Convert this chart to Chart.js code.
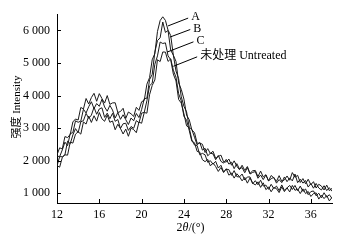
<!DOCTYPE html>
<html>
<head>
<meta charset="utf-8">
<script src="https://cdn.jsdelivr.net/npm/chart.js@4.4.1/dist/chart.umd.min.js"></script>
<style>
  html, body { margin: 0; padding: 0; background: #fff; }
  #wrap { width: 338px; height: 240px; }
</style>
</head>
<body>
<div id="wrap"><canvas id="xrd"></canvas></div>
<script>
// 2θ grid, 0.25° steps from 12 to 38
const angleStart = 12, angleStep = 0.25, angleCount = 105;
const angles = Array.from({ length: angleCount }, (_, i) => angleStart + i * angleStep);

const xTicks = [12, 16, 20, 24, 28, 32, 36];
const yTicks = [1000, 2000, 3000, 4000, 5000, 6000];

const seriesNames = ['A', 'B', 'C', '未处理 Untreated'];

const intensityA = [
  2180, 2395, 2360, 2740, 2710, 2805, 3190, 3280, 3250, 3635, 3590, 3910, 3740, 3940, 4070, 3825,
  4060, 3910, 3770, 4000, 3730, 3775, 3780, 3480, 3510, 3610, 3300, 3495, 3440, 3360, 3640, 3545,
  3810, 3855, 4350, 4550, 5100, 5290, 5970, 6305, 6420, 6310, 6010, 5845, 5240, 5050, 4390, 4190,
  3890, 3400, 3260, 2945, 2860, 2535, 2540, 2505, 2250, 2370, 2220, 2290, 2070, 2130, 2170, 1965,
  1960, 2050, 1860, 1995, 1830, 1725, 1860, 1700, 1820, 1610, 1690, 1700, 1510, 1680, 1500, 1570,
  1380, 1545, 1470, 1365, 1540, 1365, 1410, 1530, 1400, 1635, 1490, 1550, 1330, 1450, 1290, 1430,
  1260, 1355, 1160, 1275, 1220, 1100, 1250, 1080, 1150
];
const intensityB = [
  2140, 2125, 2330, 2570, 2460, 2835, 2860, 3225, 3180, 3215, 3580, 3465, 3660, 3810, 3600, 3755,
  3670, 3885, 3650, 3520, 3700, 3555, 3310, 3480, 3270, 3410, 3260, 3110, 3310, 3225, 3450, 3325,
  3570, 3905, 3920, 4490, 4650, 5335, 5690, 5775, 6260, 5940, 6000, 5395, 5240, 4755, 4520, 3960,
  3670, 3500, 3030, 2960, 2720, 2485, 2560, 2325, 2380, 2150, 2230, 2210, 2030, 2160, 1980, 1925,
  2040, 1895, 1950, 1755, 1910, 1745, 1790, 1630, 1790, 1590, 1640, 1665, 1460, 1560, 1420, 1560,
  1380, 1445, 1490, 1310, 1420, 1325, 1500, 1355, 1470, 1380, 1590, 1325, 1430, 1310, 1390, 1190,
  1300, 1155, 1300, 1160, 1100, 1230, 1080, 1170, 1060
];
const intensityC = [
  1840, 2125, 2120, 2180, 2600, 2520, 2790, 2985, 2860, 3195, 3230, 3455, 3300, 3400, 3640, 3425,
  3590, 3625, 3330, 3460, 3290, 3455, 3210, 3265, 2990, 3135, 3150, 2930, 3050, 2995, 3230, 3165,
  3460, 3485, 3840, 4300, 4380, 4960, 5220, 5645, 5600, 5620, 5220, 5105, 4660, 4450, 3880, 3770,
  3440, 3070, 3010, 2640, 2480, 2465, 2180, 2225, 2180, 1950, 2000, 1890, 1980, 1775, 1860, 1655,
  1740, 1725, 1550, 1695, 1510, 1500, 1590, 1405, 1500, 1500, 1290, 1385, 1260, 1400, 1220, 1250,
  1120, 1275, 1140, 1220, 1080, 1255, 1090, 1165, 1240, 1115, 1240, 1080, 1220, 1055, 1130, 955,
  1050, 1070, 920, 1000, 860, 1015, 880, 955, 840
];
const intensityUntreated = [
  1850, 1800, 2100, 2180, 2170, 2570, 2540, 2815, 2890, 2815, 3190, 3125, 3370, 3175, 3380, 3215,
  3480, 3285, 3210, 3400, 3180, 3220, 2950, 3120, 2990, 2820, 2970, 2750, 3000, 2955, 2860, 3185,
  3150, 3480, 3460, 4025, 4310, 4480, 5100, 5045, 5340, 5335, 5050, 5130, 4780, 4565, 4060, 3835,
  3360, 3245, 2930, 2595, 2550, 2285, 2260, 2030, 1970, 2040, 1840, 1930, 1820, 1670, 1790, 1635,
  1750, 1555, 1620, 1465, 1600, 1510, 1380, 1485, 1310, 1470, 1310, 1255, 1350, 1180, 1320, 1110,
  1190, 1045, 1180, 1140, 1020, 1195, 1050, 1165, 1040, 1240, 1090, 1125, 990, 1135, 990, 1055,
  900, 990, 1010, 820, 940, 835, 930, 765, 870
];

// leader lines: [from 2θ, from intensity, to 2θ, to intensity]
const leaders = [
  [22.5, 6140, 24.4, 6380],
  [22.7, 5800, 24.6, 6030],
  [22.4, 5335, 24.9, 5650],
  [23.0, 4900, 25.25, 5190]
];

const serif = '"Liberation Serif", "DejaVu Serif", "Noto Sans CJK SC", serif';

function fmtThousands(v) {
  const s = String(v);
  return s.length > 3 ? s.slice(0, s.length - 3) + ' ' + s.slice(-3) : s;
}

const labelsPlugin = {
  id: 'xrdLabels',
  afterDraw(chart) {
    const { ctx, scales: { x, y }, chartArea } = chart;
    ctx.save();
    ctx.strokeStyle = '#000';
    ctx.fillStyle = '#000';
    ctx.lineWidth = 1;

    // inward ticks
    ctx.beginPath();
    xTicks.forEach(t => {
      const px = Math.round(x.getPixelForValue(t)) + 0.5;
      ctx.moveTo(px, chartArea.bottom);
      ctx.lineTo(px, chartArea.bottom - 4);
    });
    yTicks.forEach(t => {
      const py = Math.round(y.getPixelForValue(t)) + 0.5;
      ctx.moveTo(chartArea.left, py);
      ctx.lineTo(chartArea.left + 4, py);
    });
    ctx.stroke();

    // leader lines and series names
    ctx.font = '12px ' + serif;
    ctx.textBaseline = 'middle';
    ctx.textAlign = 'left';
    leaders.forEach((l, i) => {
      const x1 = x.getPixelForValue(l[0]), y1 = y.getPixelForValue(l[1]);
      const x2 = x.getPixelForValue(l[2]), y2 = y.getPixelForValue(l[3]);
      ctx.beginPath();
      ctx.moveTo(x1, y1);
      ctx.lineTo(x2, y2);
      ctx.stroke();
      ctx.fillText(seriesNames[i], x2 + 3, y2 - 1);
    });

    // y axis title
    ctx.save();
    ctx.translate(17, 107);
    ctx.rotate(-Math.PI / 2);
    ctx.textAlign = 'center';
    ctx.font = '11px ' + serif;
    ctx.fillText('强度 Intensity', 0, 0);
    ctx.restore();

    // x axis title 2θ/(°)
    const cx = (chartArea.left + chartArea.right) / 2 - 4;
    const ty = 228;
    const parts = [['2', '12px '], ['θ', 'italic 12px '], ['/(°)', '12px ']];
    let total = 0;
    parts.forEach(p => { ctx.font = p[1] + serif; total += ctx.measureText(p[0]).width; });
    let tx = cx - total / 2;
    parts.forEach(p => {
      ctx.font = p[1] + serif;
      ctx.fillText(p[0], tx, ty);
      tx += ctx.measureText(p[0]).width;
    });
    ctx.restore();
  }
};

function makeSet(label, values) {
  return {
    label,
    data: values.map((v, i) => ({ x: angles[i], y: v })),
    borderColor: '#1a1a1a',
    borderWidth: 1,
    pointRadius: 0,
    tension: 0,
    fill: false
  };
}

new Chart(document.getElementById('xrd').getContext('2d'), {
  type: 'line',
  data: {
    datasets: [
      makeSet('A', intensityA),
      makeSet('B', intensityB),
      makeSet('C', intensityC),
      makeSet('Untreated', intensityUntreated)
    ]
  },
  options: {
    responsive: true,
    maintainAspectRatio: false,
    animation: false,
    layout: { padding: { top: 3, right: 6, left: 0, bottom: 0 } },
    plugins: { legend: { display: false }, tooltip: { enabled: false } },
    scales: {
      x: {
        type: 'linear',
        min: 12,
        max: 38,
        afterBuildTicks: s => { s.ticks = xTicks.map(v => ({ value: v })); },
        afterFit: s => { s.height = 37; },
        grid: { display: false, drawTicks: false },
        border: { color: '#000', width: 1 },
        ticks: { color: '#000', padding: 5, font: { family: serif, size: 12 }, maxRotation: 0 }
      },
      y: {
        min: 700,
        max: 6500,
        afterBuildTicks: s => { s.ticks = yTicks.map(v => ({ value: v })); },
        afterFit: s => { s.width = 57; },
        grid: { display: false, drawTicks: false },
        border: { color: '#000', width: 1 },
        ticks: { color: '#000', padding: 7, font: { family: serif, size: 12 }, callback: v => fmtThousands(v) }
      }
    }
  },
  plugins: [labelsPlugin]
});
</script>
</body>
</html>
